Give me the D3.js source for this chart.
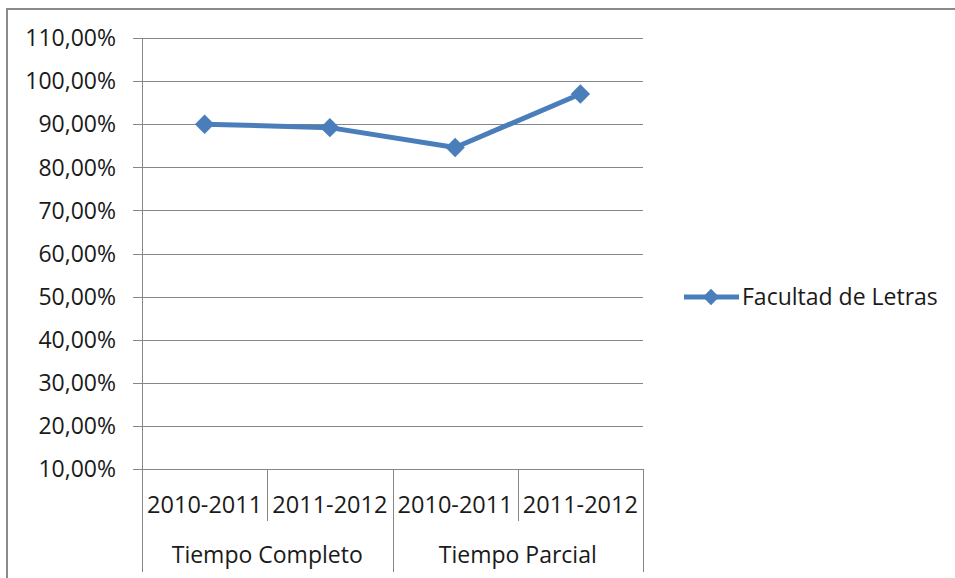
<!DOCTYPE html>
<html><head><meta charset="utf-8">
<script src="https://cdn.jsdelivr.net/npm/d3@7"></script>
<style>body{margin:0;background:#fff}svg{display:block}text{font-family:"Open Sans",sans-serif;fill:#1a1a1a}</style>
</head><body>
<script>
const years = ["2010-2011","2011-2012","2010-2011","2011-2012"];
const groups = ["Tiempo Completo","Tiempo Parcial"];
const values = [0.90, 0.892, 0.846, 0.970];
const seriesName = "Facultad de Letras";
const yTicks = [0.1,0.2,0.3,0.4,0.5,0.6,0.7,0.8,0.9,1.0,1.1];

const W=955,H=578;
const svg=d3.select("body").append("svg").attr("width",W).attr("height",H);
svg.append("rect").attr("x",7).attr("y",9).attr("width",W+20).attr("height",H+20)
  .attr("fill","#fff").attr("stroke","#8a8a8a").attr("stroke-width",2);

const pL=142,pR=643,pT=38,pB=469;
const y=d3.scaleLinear().domain([0.1,1.1]).range([pB,pT]);
const x=d3.scaleBand().domain(d3.range(values.length)).range([pL,pR]).padding(0);
const gx=d3.scaleBand().domain(d3.range(groups.length)).range([pL,pR]);

const grid="#868686";
svg.append("g").selectAll("line").data(yTicks).join("line")
  .attr("x1",pL-9).attr("x2",pR).attr("y1",d=>Math.round(y(d))+0.5).attr("y2",d=>Math.round(y(d))+0.5)
  .attr("stroke",grid).attr("stroke-width",1);
const fmt=d=>d3.format(".2f")(d*100).replace(".",",")+"%";
svg.append("g").selectAll("text").data(yTicks).join("text")
  .attr("x",116).attr("y",d=>y(d)).attr("dy","0.36em").attr("text-anchor","end")
  .attr("font-size",23).text(fmt);
svg.append("line").attr("x1",pL+0.5).attr("x2",pL+0.5).attr("y1",pT).attr("y2",572).attr("stroke",grid);
svg.append("g").selectAll("line").data(d3.range(1,values.length+1)).join("line")
  .attr("x1",d=>Math.round(pL+d*x.bandwidth())+0.5).attr("x2",d=>Math.round(pL+d*x.bandwidth())+0.5)
  .attr("y1",pB).attr("y2",d=>(d%2===0)?572:521).attr("stroke",grid);
svg.append("g").selectAll("text").data(years).join("text")
  .attr("x",(d,i)=>x(i)+x.bandwidth()/2).attr("y",505).attr("dy","0.36em").attr("text-anchor","middle")
  .attr("font-size",23.5).text(d=>d);
svg.append("g").selectAll("text").data(groups).join("text")
  .attr("x",(d,i)=>gx(i)+gx.bandwidth()/2).attr("y",555).attr("dy","0.36em").attr("text-anchor","middle")
  .attr("font-size",23).text(d=>d);

const blue="#4a7ebb";
const line=d3.line().x((d,i)=>x(i)+x.bandwidth()/2).y(d=>y(d));
svg.append("path").datum(values).attr("d",line).attr("fill","none").attr("stroke",blue).attr("stroke-width",5).attr("stroke-linejoin","round");
const diamond=d3.symbol().type(d3.symbolDiamond2).size(240);
svg.append("g").selectAll("path").data(values).join("path")
  .attr("transform",(d,i)=>`translate(${x(i)+x.bandwidth()/2},${y(d)})`).attr("d",diamond).attr("fill",blue);

const ly=297;
svg.append("line").attr("x1",684).attr("x2",739).attr("y1",ly).attr("y2",ly).attr("stroke",blue).attr("stroke-width",5);
svg.append("path").attr("transform",`translate(711,${ly})`).attr("d",d3.symbol().type(d3.symbolDiamond2).size(170)).attr("fill",blue);
svg.append("text").attr("x",742).attr("y",ly).attr("dy","0.36em").attr("font-size",23).text(seriesName);
</script>
</body></html>
